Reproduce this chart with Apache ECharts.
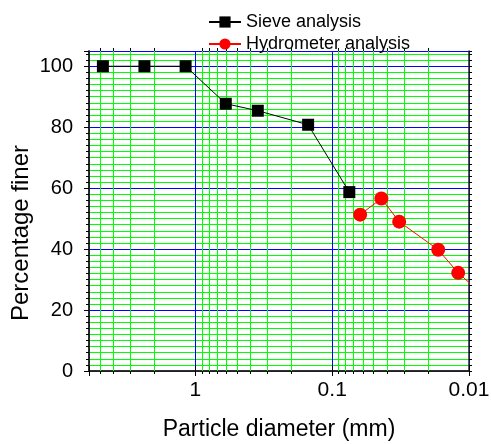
<!DOCTYPE html>
<html>
<head>
<meta charset="utf-8">
<script src="https://cdn.jsdelivr.net/npm/echarts@6/dist/echarts.min.js"></script>
<style>
html,body{margin:0;padding:0;background:#fff;}
#c{width:491px;height:444px;}
</style>
</head>
<body>
<div id="c"></div>
<script>
// Data
const sieveSize = [4.75, 2.36, 1.18, 0.6, 0.35, 0.15, 0.075];
const sieveFiner = [100, 100, 100, 87.7, 85.4, 80.8, 58.7];
const hydroSize = [0.0625, 0.0437, 0.0324, 0.0168, 0.0120, 0.008];
const hydroFiner = [51.3, 56.6, 49.0, 39.8, 32.2, 25.2];
// minor (green) vertical gridline values
const xMinorGrid = [5, 4, 3, 2, 0.9, 0.8, 0.7, 0.6, 0.5, 0.4, 0.3, 0.2, 0.09, 0.08, 0.07, 0.06, 0.05, 0.04, 0.03, 0.02];
const xMin = 0.01, xMax = 6;
const yMin = 0, yMax = 105;

const FONT = 'Liberation Sans, Arial, sans-serif';
const chart = echarts.init(document.getElementById('c'), null, {renderer: 'canvas'});

function isPow10(v) {
  const l = Math.log10(v);
  return Math.abs(l - Math.round(l)) < 1e-6;
}

const option = {
  backgroundColor: '#fff',
  animation: false,
  grid: {left: 89, right: 22, top: 51, bottom: 73, containLabel: false, outerBoundsMode: 'none'},
  legend: {
    orient: 'vertical', left: 203, top: 8,
    itemWidth: 32, itemHeight: 14, itemGap: 4,
    textStyle: {fontSize: 18, color: '#000', fontFamily: FONT},
    data: ['Sieve analysis', 'Hydrometer analysis']
  },
  graphic: [{
    type: 'text', x: 21, y: 233, rotation: Math.PI / 2, silent: true,
    style: {text: 'Percentage finer', fontSize: 24, fontFamily: FONT, fill: '#000',
      align: 'center', verticalAlign: 'middle'}
  }],
  xAxis: [{
    type: 'log', logBase: 10, min: xMin, max: xMax, inverse: true,
    position: 'bottom',
    name: 'Particle diameter (mm)', nameLocation: 'middle', nameGap: 47,
    nameTextStyle: {fontSize: 23, color: '#000', fontFamily: FONT},
    axisLine: {show: true, lineStyle: {color: '#222', width: 1.5}},
    axisTick: {show: true, inside: false, length: 5, lineStyle: {color: '#000'}},
    axisLabel: {fontSize: 21, color: '#000', fontFamily: FONT, margin: 9,
      formatter: v => isPow10(v) ? String(+v.toPrecision(3)) : ''},
    splitLine: {show: true, lineStyle: {color: '#0000ff', width: 1}},
    minorTick: {show: false},
    minorSplitLine: {show: false}
  }, {
    type: 'log', logBase: 10, min: xMin, max: xMax, inverse: true,
    position: 'top',
    axisLine: {show: true, lineStyle: {color: '#222', width: 1.5}},
    axisTick: {show: true, inside: false, length: 5, lineStyle: {color: '#000'}},
    axisLabel: {show: false},
    splitLine: {show: false},
    minorTick: {show: false},
    minorSplitLine: {show: false}
  }],
  yAxis: [{
    type: 'value', min: yMin, max: yMax, interval: 2, position: 'left',
    axisLine: {show: true, lineStyle: {color: '#222', width: 1.5}},
    axisTick: {show: true, inside: false, length: 3, lineStyle: {color: '#000'}},
    axisLabel: {show: false},
    splitLine: {show: true, lineStyle: {color: '#00ff00', width: 1}}
  }, {
    type: 'value', min: yMin, max: yMax, interval: 20, position: 'left',
    axisLine: {show: true, lineStyle: {color: '#222', width: 1.5}},
    axisTick: {show: true, inside: false, length: 5, lineStyle: {color: '#000'}},
    axisLabel: {fontSize: 20, color: '#000', fontFamily: FONT, margin: 16,
      formatter: v => (v % 20 === 0 ? String(v) : '')},
    splitLine: {show: true, lineStyle: {color: '#0000ff', width: 1}}
  }, {
    type: 'value', min: yMin, max: yMax, interval: 2, position: 'right',
    axisLine: {show: true, lineStyle: {color: '#222', width: 1.5}},
    axisTick: {show: true, inside: false, length: 3, lineStyle: {color: '#000'}},
    axisLabel: {show: false},
    splitLine: {show: false}
  }],
  series: [{
    type: 'custom', name: 'grid-minor', xAxisIndex: 0, yAxisIndex: 0,
    z: 1, silent: true, clip: false,
    data: xMinorGrid.map(v => [v, yMin]),
    encode: {x: 0, y: 1},
    renderItem: function (params, api) {
      const v = api.value(0);
      const b = api.coord([v, yMin]);
      const t = api.coord([v, yMax]);
      const x = Math.round(b[0]) + 0.5;
      return {
        type: 'group',
        children: [
          {type: 'line', shape: {x1: x, y1: b[1], x2: x, y2: t[1]}, style: {stroke: '#00ff00', lineWidth: 1}},
          {type: 'line', shape: {x1: x, y1: b[1], x2: x, y2: b[1] + 3}, style: {stroke: '#000', lineWidth: 1}},
          {type: 'line', shape: {x1: x, y1: t[1], x2: x, y2: t[1] - 3}, style: {stroke: '#000', lineWidth: 1}}
        ]
      };
    }
  }, {
    name: 'Sieve analysis', type: 'line', xAxisIndex: 0, yAxisIndex: 0, z: 3,
    data: sieveSize.map((s, i) => [s, sieveFiner[i]]),
    symbol: 'rect', symbolSize: 12,
    itemStyle: {color: '#000'},
    lineStyle: {color: '#000', width: 1}
  }, {
    name: 'Hydrometer analysis', type: 'line', xAxisIndex: 0, yAxisIndex: 0, z: 3,
    data: hydroSize.map((s, i) => [s, hydroFiner[i]]),
    symbol: 'circle', symbolSize: 14,
    itemStyle: {color: '#ff0000'},
    lineStyle: {color: '#ff0000', width: 1}
  }]
};
chart.setOption(option);
</script>
</body>
</html>
